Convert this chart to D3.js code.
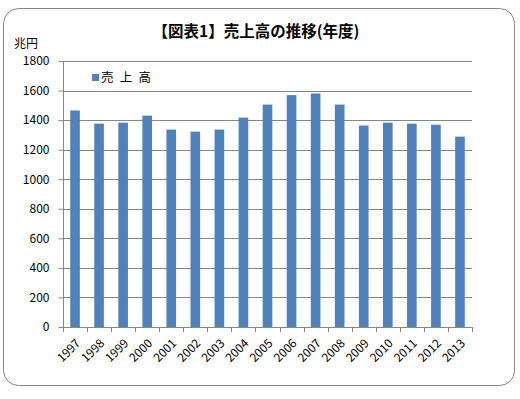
<!DOCTYPE html>
<html>
<head>
<meta charset="utf-8">
<script src="https://cdn.jsdelivr.net/npm/d3@7"></script>
<style>
  body { margin: 0; background: #fff; }
  text { font-family: "Noto Sans CJK JP", "Noto Sans", sans-serif; fill: #000; }
</style>
</head>
<body>
<svg id="chart" width="520" height="399"></svg>
<script>
// data
const years = ["1997","1998","1999","2000","2001","2002","2003","2004","2005",
               "2006","2007","2008","2009","2010","2011","2012","2013"];
const sales = [1465, 1376, 1383, 1430, 1336, 1322, 1336, 1417, 1505,
               1569, 1580, 1505, 1363, 1383, 1376, 1369, 1288];
const yTicks = [0, 200, 400, 600, 800, 1000, 1200, 1400, 1600, 1800];

const svg = d3.select("#chart");

// frame
svg.append("rect")
    .attr("x", 3.5).attr("y", 8.5)
    .attr("width", 511).attr("height", 377)
    .attr("rx", 15).attr("ry", 15)
    .attr("fill", "#fff")
    .attr("stroke", "#868686")
    .attr("stroke-width", 1);

const plotL = 63, plotR = 472, plotT = 61, plotB = 327;

const x = d3.scaleBand()
    .domain(years)
    .range([plotL, plotR])
    .paddingInner(0.6)
    .paddingOuter(0.3);

const xLine = d3.scalePoint()
    .domain(d3.range(years.length + 1))
    .range([plotL, plotR]);

const y = d3.scaleLinear()
    .domain([0, 1800])
    .range([plotB, plotT]);

// gridlines
svg.append("g")
    .selectAll("line")
    .data(yTicks.filter(d => d > 0))
    .join("line")
    .attr("x1", plotL).attr("x2", plotR)
    .attr("y1", d => Math.round(y(d)) + 0.5)
    .attr("y2", d => Math.round(y(d)) + 0.5)
    .attr("stroke", "#868686");

// bars
svg.append("g")
    .selectAll("rect")
    .data(sales)
    .join("rect")
    .attr("x", (d, i) => x(years[i]))
    .attr("width", x.bandwidth())
    .attr("y", d => y(d))
    .attr("height", d => plotB - y(d))
    .attr("fill", "#4F81BD");

// y axis
const yAxis = svg.append("g")
    .attr("transform", `translate(${plotL + 0.5},0)`)
    .call(d3.axisLeft(y).tickValues(yTicks).tickFormat(d3.format("d"))
        .tickSize(5).tickPadding(9));
yAxis.selectAll("path, line").attr("stroke", "#868686");
yAxis.selectAll("text")
    .style("font-size", "12px")
    .attr("fill", "#000");
yAxis.select(".domain").attr("d", `M0,${plotT}V${plotB}`);

// x axis
const xg = svg.append("g");
xg.append("line")
    .attr("x1", plotL).attr("x2", plotR)
    .attr("y1", plotB + 0.5).attr("y2", plotB + 0.5)
    .attr("stroke", "#868686");
xg.selectAll("line.tick")
    .data(d3.range(years.length + 1))
    .join("line")
    .attr("class", "tick")
    .attr("x1", d => Math.round(xLine(d)) + 0.5)
    .attr("x2", d => Math.round(xLine(d)) + 0.5)
    .attr("y1", plotB).attr("y2", plotB + 5)
    .attr("stroke", "#868686");
xg.selectAll("text")
    .data(years)
    .join("text")
    .attr("text-anchor", "end")
    .attr("transform", d => `translate(${x(d) + x.bandwidth() / 2 + 6},${plotB + 17}) rotate(-45)`)
    .style("font-size", "12px")
    .text(d => d);

// title
svg.append("text")
    .attr("x", 256).attr("y", 37)
    .attr("text-anchor", "middle")
    .style("font-size", "15.5px")
    .style("font-weight", "bold")
    .text("【図表1】売上高の推移(年度)");

// unit
svg.append("text")
    .attr("x", 14).attr("y", 48)
    .style("font-size", "12px")
    .text("兆円");

// legend
svg.append("rect")
    .attr("x", 92).attr("y", 74)
    .attr("width", 7).attr("height", 7)
    .attr("fill", "#4F81BD");
svg.append("text")
    .attr("x", 101).attr("y", 82)
    .style("font-size", "12.5px")
    .text("売\u2002上\u2002高");
</script>
</body>
</html>
